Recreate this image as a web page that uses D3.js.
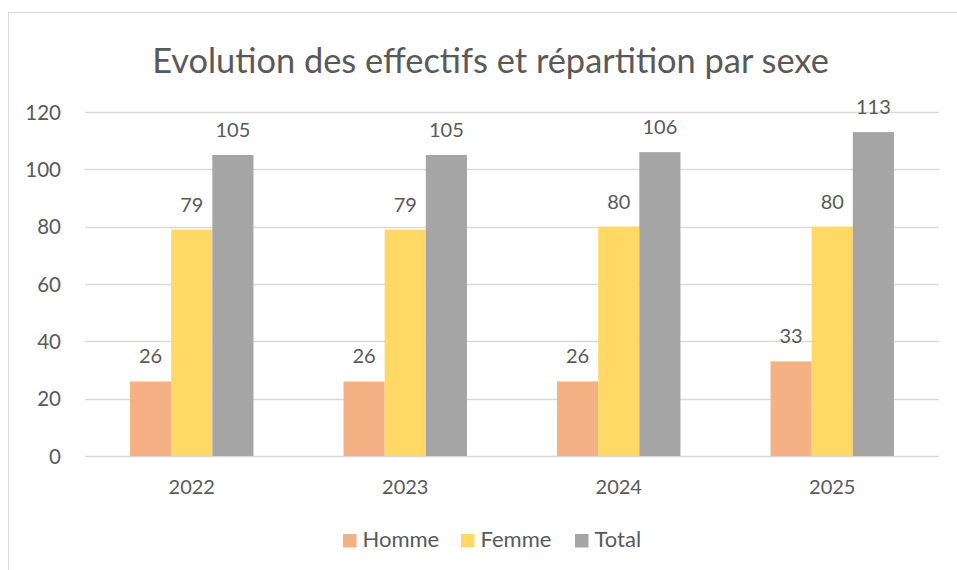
<!DOCTYPE html>
<html><head><meta charset="utf-8">
<script src="https://cdn.jsdelivr.net/npm/d3@7"></script>
<style>body{margin:0;background:#fff;} text{font-family:Lato,"Open Sans",sans-serif;fill:#595959;}</style>
</head><body>
<svg id="c" width="957" height="570"></svg>
<script>
const title = "Evolution des effectifs et répartition par sexe";
const years = ["2022","2023","2024","2025"];
const seriesNames = ["Homme","Femme","Total"];
const homme = [26,26,26,33];
const femme = [79,79,80,80];
const total = [105,105,106,113];
const yTicks = [0,20,40,60,80,100,120];
const colors = ["#F4B183","#FFD966","#A5A5A5"];

const svg = d3.select("#c");
// chart frame
svg.append("rect").attr("x",8.5).attr("y",12.5).attr("width",960).attr("height",570)
  .attr("fill","#fff").attr("stroke","#d9d9d9").attr("stroke-width",1);

const pLeft=85, pRight=939, pTop=112, pBottom=456;
const x = d3.scaleBand().domain(years).range([pLeft,pRight]);
const y = d3.scaleLinear().domain([0,120]).range([pBottom,pTop]);
const barW = x.bandwidth()/(3+2.19);
const xs = d3.scaleBand().domain(seriesNames).range([0,barW*3]);

// gridlines
svg.append("g").selectAll("line").data(yTicks).join("line")
  .attr("x1",pLeft).attr("x2",pRight).attr("y1",d=>Math.round(y(d))+0.5).attr("y2",d=>Math.round(y(d))+0.5)
  .attr("stroke","#d9d9d9").attr("stroke-width",1.3);

// y axis labels
const yAxis = d3.axisLeft(y).tickValues(yTicks).tickSize(0).tickPadding(0);
const gy = svg.append("g").attr("transform",`translate(61,0)`).call(yAxis);
gy.select(".domain").remove();
gy.selectAll("text").style("font-size","20.5px").attr("fill","#595959").attr("dy","0.35em").style("font-family","Lato");

// x axis labels
const xAxis = d3.axisBottom(x).tickSize(0).tickPadding(0);
const gx = svg.append("g").attr("transform",`translate(0,${pBottom})`).call(xAxis);
gx.select(".domain").remove();
gx.selectAll("text").style("font-size","20px").attr("fill","#595959").attr("dy",null).attr("y",38).style("font-family","Lato");

const data = [];
years.forEach((yr,i)=>{
  [homme[i],femme[i],total[i]].forEach((v,j)=>data.push({yr,s:seriesNames[j],v,c:colors[j]}));
});
const off = (x.bandwidth()-barW*3)/2;
svg.append("g").selectAll("rect").data(data).join("rect")
  .attr("x",d=>x(d.yr)+off+xs(d.s)).attr("width",xs.bandwidth())
  .attr("y",d=>y(d.v)).attr("height",d=>y(0)-y(d.v)).attr("fill",d=>d.c);
svg.append("g").selectAll("text").data(data).join("text")
  .attr("x",d=>x(d.yr)+off+xs(d.s)+xs.bandwidth()/2).attr("y",d=>y(d.v)-18)
  .attr("text-anchor","middle").style("font-size","20px").text(d=>d.v);

// title
const t = svg.append("text").attr("x",490.5).attr("y",72.5).attr("text-anchor","middle")
  .style("font-size","31px").text(title);
const w = t.node().getComputedTextLength();
t.style("font-size",(31*677/w).toFixed(2)+"px");

// legend
const legX = [343,461,575];
const lg = svg.append("g").selectAll("g").data(seriesNames).join("g")
  .attr("transform",(d,i)=>`translate(${legX[i]},534)`);
lg.append("rect").attr("width",13.5).attr("height",13.5).attr("fill",(d,i)=>colors[i]);
lg.append("text").attr("x",19.5).attr("y",12.9).style("font-size","22px").text(d=>d);
</script>
</body></html>
